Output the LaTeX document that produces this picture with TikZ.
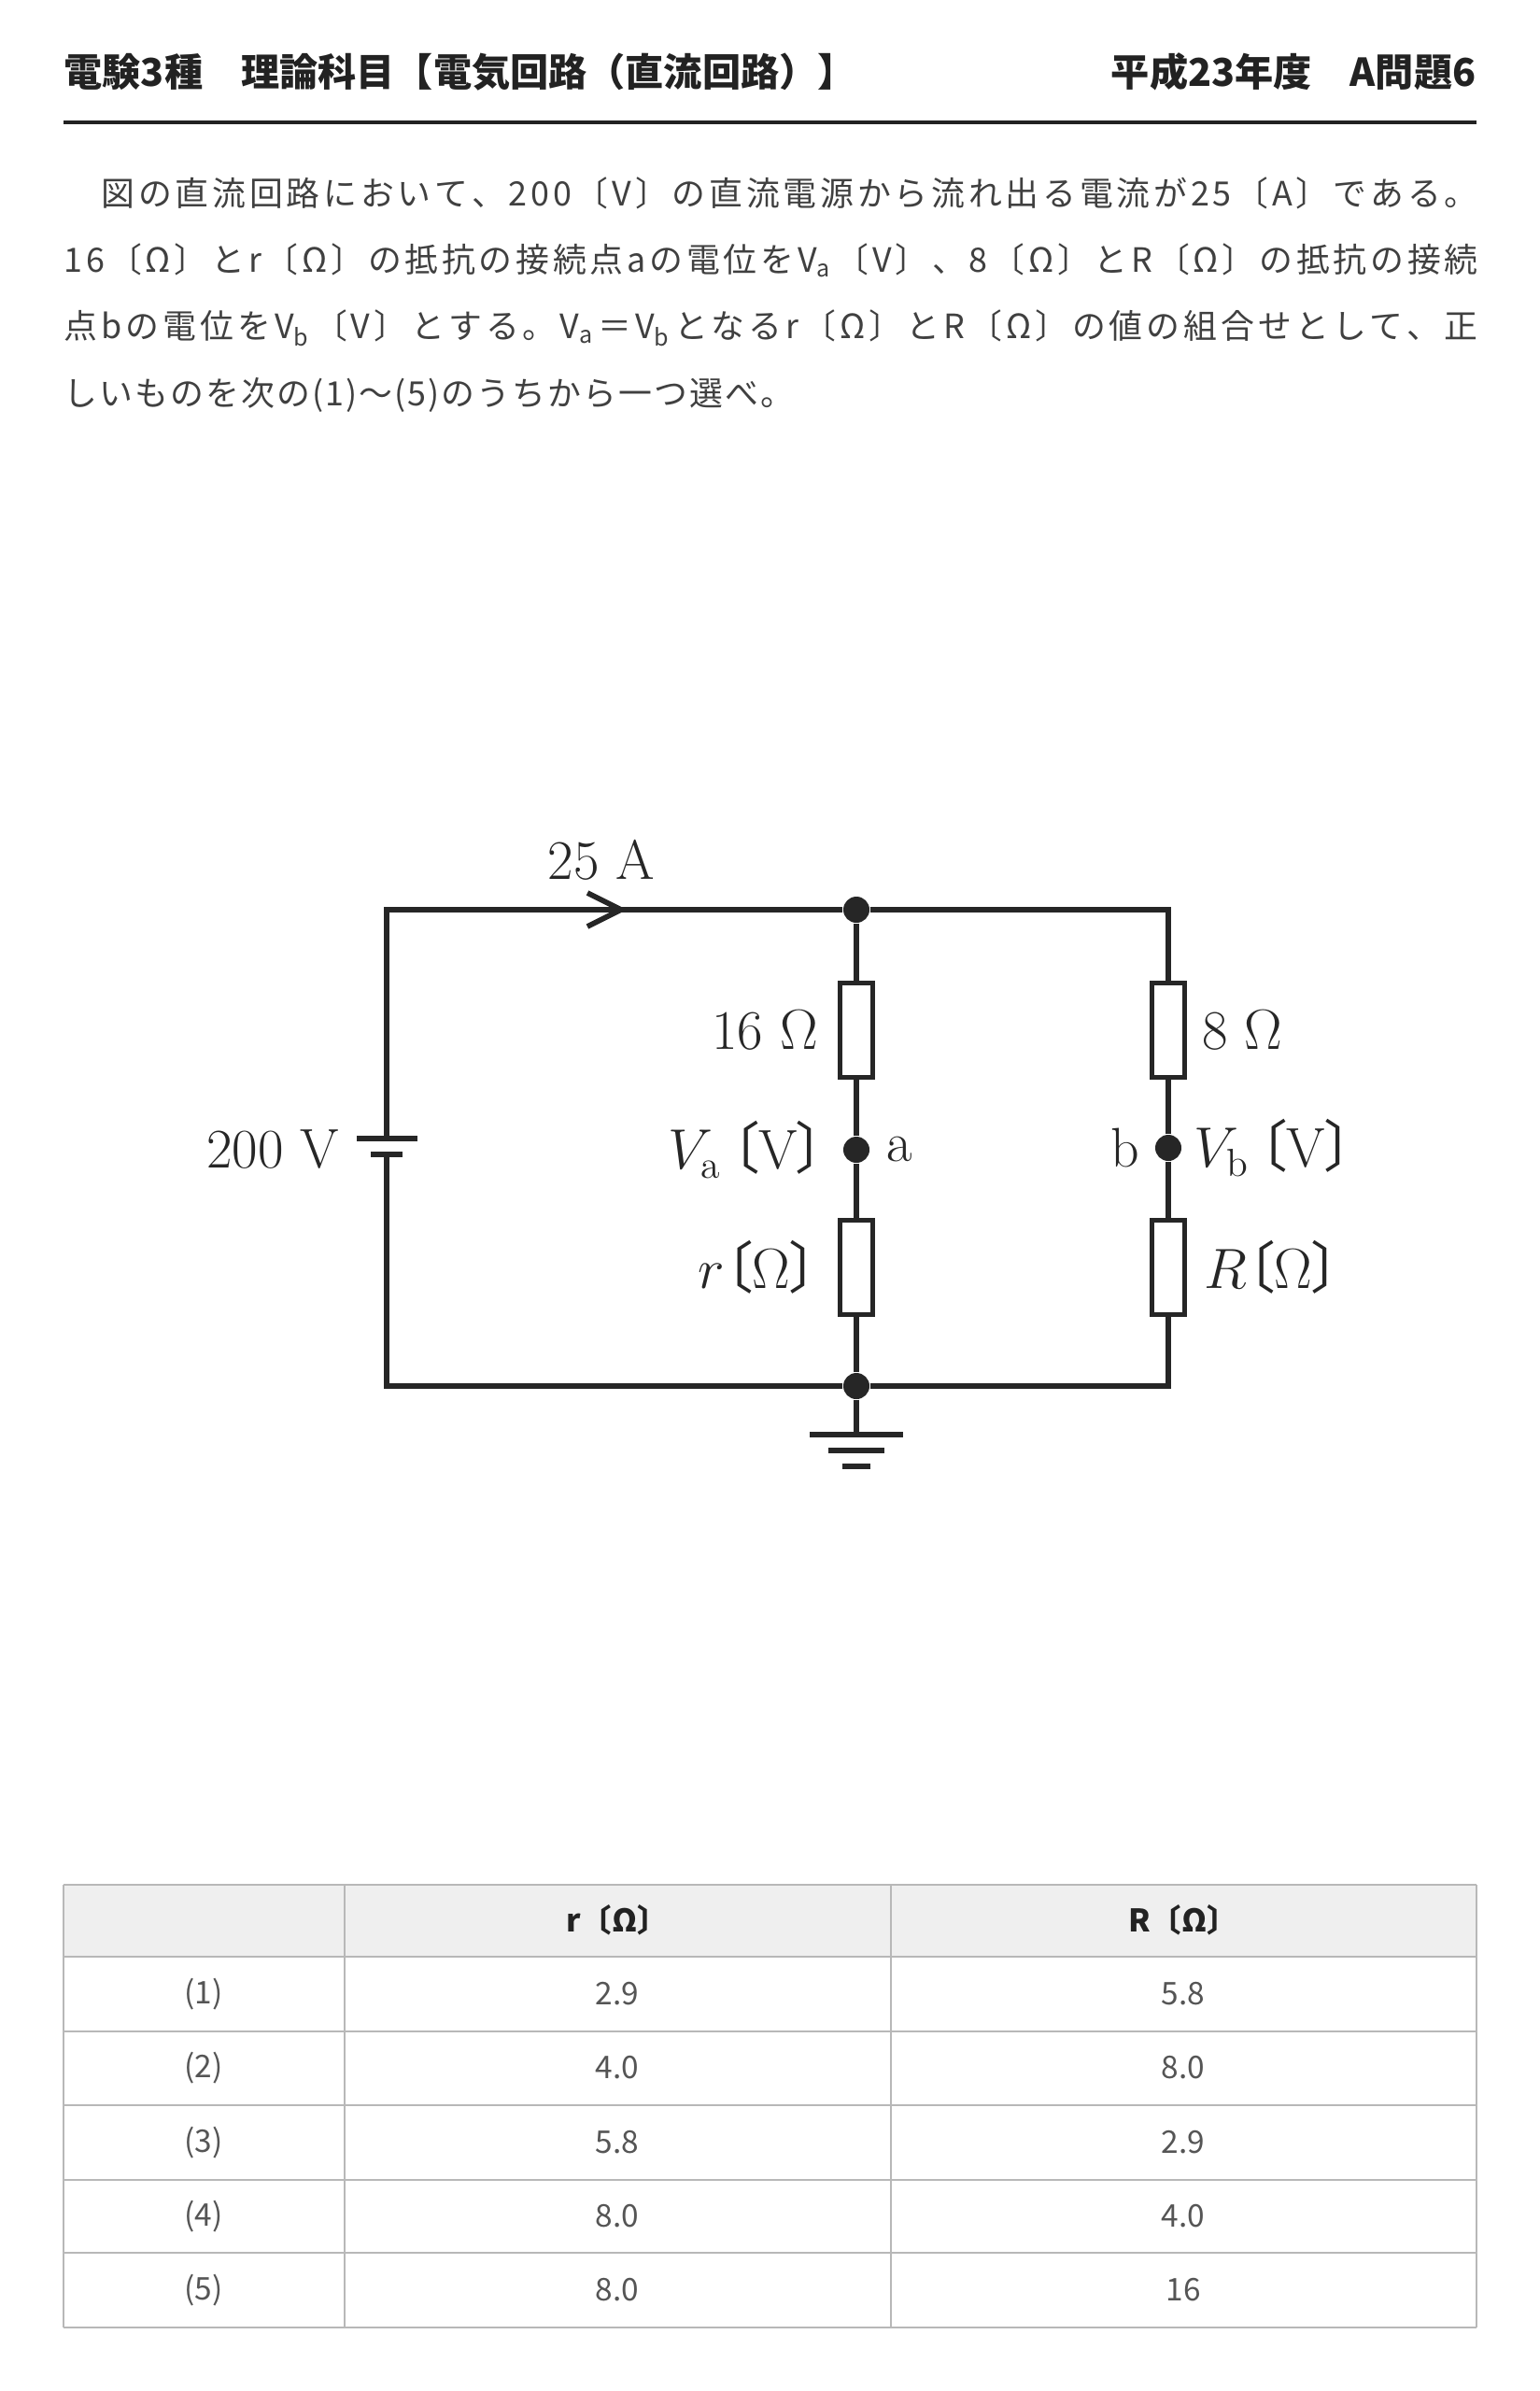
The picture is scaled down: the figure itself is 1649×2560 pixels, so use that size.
\documentclass[tikz,border=0pt]{standalone}
\usepackage{fontspec}
\usepackage{tikz}
\usetikzlibrary{positioning}
\newfontfamily\cjk{Noto Sans CJK JP}
\newfontfamily\cjkp[RawFeature=+palt]{Noto Sans CJK JP}
\definecolor{ink}{HTML}{222222}
\definecolor{txt}{HTML}{404040}
\definecolor{cell}{HTML}{555555}
\definecolor{tabline}{HTML}{B8B8B8}
\definecolor{headbg}{HTML}{EFEFEF}
\newcommand{\lkk}{{\cjkp 〔}}
\newcommand{\rkk}{{\cjkp 〕}}
\makeatletter
\newcommand{\spreadline}[2]{\hbox to #1{\@tfor\ch:=#2\do{\ch\hskip 0pt plus 1fil}\unskip}}
\makeatother
\tikzset{
  wire/.style={line width=1.6pt, black!85},
  plate/.style={line width=1.8pt, black!85},
  resistor/.style={draw=black!85, line width=1.6pt, fill=white, minimum width=0.35cm, minimum height=1.01cm, inner sep=0pt},
  dot/.style={circle, fill=black!85, minimum size=0.28cm, inner sep=0pt},
  lbl/.style={inner sep=0pt, text=black!85, font=\fontsize{17}{19}\selectfont},
  head/.style={inner sep=0pt, text=ink, font=\cjk\bfseries\fontsize{11.7}{14}\selectfont},
  para/.style={inner sep=0pt, anchor=west, text=txt, font=\cjk\fontsize{10.2}{12}\selectfont},
  celltext/.style={inner sep=0pt, text=cell, font=\cjk\fontsize{9.5}{11}\selectfont},
}
\begin{document}
\begin{tikzpicture}[x=0.01cm, y=-0.01cm]
\useasboundingbox (0,0) rectangle (1649,2560);

\node[head, anchor=west] (title) at (68,77) {電験3種　理論科目【電気回路（直流回路）】};
\node[head, anchor=east] (year) at (1581,77) {平成23年度　A問題6};
\draw[ink, line width=1pt] (68,131) -- (1581,131);

\node[para] (p1) at (68,207) {\spreadline{15.13cm}{　図の直流回路において、200〔V〕の直流電源から流れ出る電流が25〔A〕である。}};
\node[para] (p2) at (68,279) {\spreadline{15.13cm}{16〔Ω〕とr〔Ω〕の抵抗の接続点aの電位を{V\textsubscript{a}}〔V〕、8〔Ω〕とR〔Ω〕の抵抗の接続}};
\node[para] (p3) at (68,351) {\spreadline{15.13cm}{点bの電位を{V\textsubscript{b}}〔V〕とする。{V\textsubscript{a}}＝{V\textsubscript{b}}となるr〔Ω〕とR〔Ω〕の値の組合せとして、正}};
\node[para] (p4) at (68,423) {\spreadline{7.81cm}{しいものを次の(1)～(5)のうちから一つ選べ。}};

\coordinate (tl) at (414,974);
\coordinate (bl) at (414,1484);
\coordinate (tr) at (1251,974);
\coordinate (br) at (1251,1484);
\coordinate (bp) at (414,1219);
\coordinate (bn) at (414,1236);
\coordinate (g) at (917,1536);
\coordinate (arr) at (665,974);
\node[dot] (j1) at (917,974) {};
\node[dot] (j2) at (917,1484) {};
\node[resistor] (r16) at (917,1103) {};
\node[dot] (a) at (917,1231) {};
\node[resistor] (rr) at (917,1357) {};
\node[resistor] (r8) at (1251,1103) {};
\node[dot] (b) at (1251,1229) {};
\node[resistor] (rR) at (1251,1357) {};

\draw[wire] (bp) -- (tl) -- (j1) -- (tr) -- (r8);
\draw[wire] (j1) -- (r16) -- (a) -- (rr) -- (j2);
\draw[wire] (r8) -- (b) -- (rR) -- (br) -- (j2) -- (bl) -- (bn);
\draw[wire] (j2) -- (g);
\draw[wire] ([shift={(-36,-18)}]arr) -- (arr) -- ([shift={(-36,18)}]arr);
\draw[plate] ([xshift=-0.32cm]bp) -- ([xshift=0.33cm]bp);
\draw[plate] ([xshift=-0.17cm]bn) -- ([xshift=0.17cm]bn);
\draw[plate] ([xshift=-0.5cm]g) -- ([xshift=0.5cm]g);
\draw[plate] ([shift={(-30,17)}]g) -- ([shift={(30,17)}]g);
\draw[plate] ([shift={(-15,34)}]g) -- ([shift={(15,34)}]g);

\node[lbl] (cur) at (644,921) {25 A};
\node[lbl, anchor=east] (emf) at (364,1231) {200 V};
\node[lbl, left=0.2cm of r16] (l16) {16 $\Omega$};
\node[lbl, right=0.15cm of r8] (l8) {8 $\Omega$};
\node[lbl, left=0.18cm of a] (va) {$V_{\mathrm{a}}$\,\lkk V\rkk};
\node[lbl, right=0.17cm of a] (na) {a};
\node[lbl, left=0.16cm of b] (nb) {b};
\node[lbl, right=0.12cm of b] (vb) {$V_{\mathrm{b}}$\,\lkk V\rkk};
\node[lbl, left=0.2cm of rr] (lr) {$r$\lkk$\Omega$\rkk};
\node[lbl, right=0.17cm of rR] (lR) {$R$\lkk$\Omega$\rkk};

\fill[headbg] (68,2018) rectangle (1581,2095);
\foreach \y in {2018,2095,2175,2254,2334,2412,2492}
  \draw[tabline, line width=0.7pt] (68,\y) -- (1581,\y);
\foreach \x in {68,369,954,1581}
  \draw[tabline, line width=0.5pt] (\x,2018) -- (\x,2492);
\node[celltext, text=ink, font=\cjk\bfseries\fontsize{9.5}{11}\selectfont] (hr) at (661,2056) {r〔Ω〕};
\node[celltext, text=ink, font=\cjk\bfseries\fontsize{9.5}{11}\selectfont] (hR) at (1267,2056) {R〔Ω〕};
\foreach \k/\vr/\vR/\y in {1/2.9/5.8/2135, 2/4.0/8.0/2214, 3/5.8/2.9/2294, 4/8.0/4.0/2373, 5/8.0/16/2452}{
  \node[celltext] (k\k) at (218,\y) {(\k)};
  \node[celltext] (cr\k) at (661,\y) {\vr};
  \node[celltext] (cR\k) at (1267,\y) {\vR};
}
\end{tikzpicture}
\end{document}
